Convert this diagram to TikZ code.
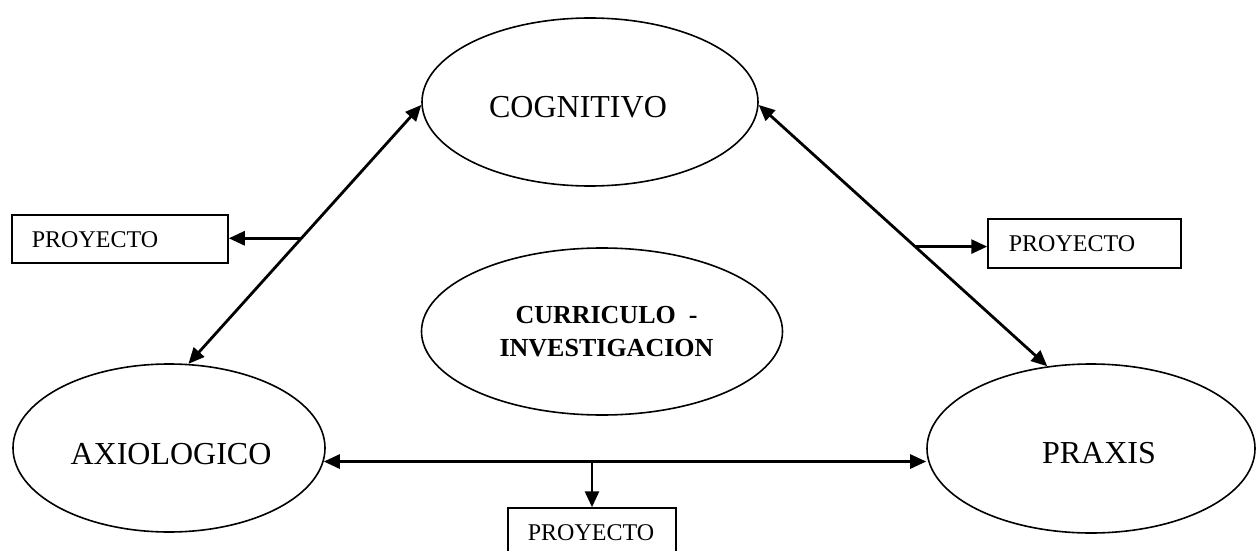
\documentclass[tikz,border=0pt]{standalone}
\usepackage{fontspec}
\setmainfont{Liberation Serif}
\usetikzlibrary{shapes.geometric,arrows.meta,calc}
\begin{document}
\begin{tikzpicture}[x=1pt,y=-1pt,
  ell/.style={draw, ellipse, line width=1.6pt, inner sep=0pt},
  pbox/.style={draw, rectangle, line width=1.5pt, inner sep=0pt},
  big/.style={inner sep=0pt, font=\fontsize{32}{38}\selectfont},
  small/.style={inner sep=0pt, font=\fontsize{24}{29}\selectfont},
  mid/.style={inner sep=0pt, align=center, font=\fontsize{26}{33}\selectfont\bfseries},
  conn/.style={line width=2.8pt, {Triangle[length=16pt,width=14pt]}-{Triangle[length=16pt,width=14pt]}},
  one/.style={line width=2.8pt, -{Triangle[length=16pt,width=14pt]}}]
\useasboundingbox (0,0) rectangle (1256,551);
\clip (0,0) rectangle (1256,551);
% ellipses
\node[ell, minimum width=336pt, minimum height=168pt] (cog) at (590,102) {};
\node[ell, minimum width=361pt, minimum height=167pt] (cur) at (602,331.5) {};
\node[ell, minimum width=312pt, minimum height=168pt] (axio) at (169,448) {};
\node[ell, minimum width=328pt, minimum height=169pt] (prax) at (1091,448.5) {};
% ellipse texts
\node[big] (cogt) at (578,107.5) {COGNITIVO};
\node[big] (axiot) at (171,454.5) {AXIOLOGICO};
\node[big] (praxt) at (1099,453) {PRAXIS};
\node[mid] (curt) at (606.5,332) {CURRICULO~\ -\\INVESTIGACION};
% boxes
\node[pbox, minimum width=216pt, minimum height=48pt] (lbox) at (120,239) {};
\node[pbox, minimum width=193pt, minimum height=49pt] (rbox) at (1084.5,243.5) {};
\node[pbox, minimum width=168pt, minimum height=56pt] (bbx) at (592,536) {};
\node[small] (lboxt) at (95,240) {PROYECTO};
\node[small] (rboxt) at (1072,244) {PROYECTO};
\node[small] (bbxt) at (591,533) {PROYECTO};
% connectors
\draw[conn] (axio.77) -- (cog.181) coordinate[pos=0.485] (lb);
\draw[one] (lb) -- (lb -| lbox.east);
\draw[conn] (cog.359) -- (prax.118) coordinate[pos=0.542] (rb);
\draw[one] (rb) -- (rb -| rbox.west);
\draw[conn] (axio.355) -- (axio.355 -| prax.west);
\draw[one] (bbx.north |- axio.355) -- (bbx.north);
\end{tikzpicture}
\end{document}
